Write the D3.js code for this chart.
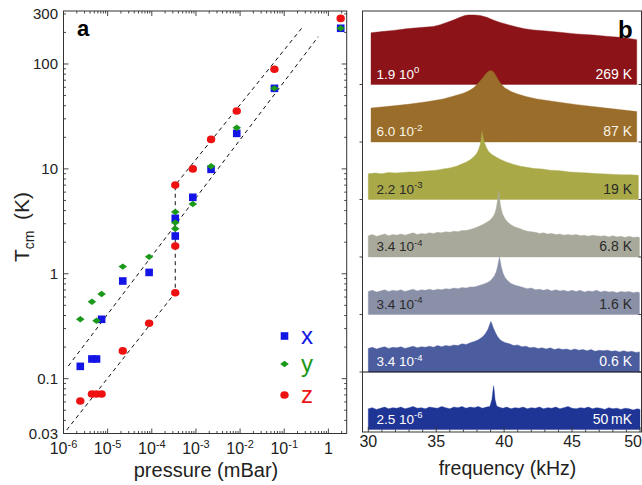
<!DOCTYPE html>
<html><head><meta charset="utf-8">
<script src="https://cdn.jsdelivr.net/npm/d3@7"></script>
<style>
body{margin:0;background:#fff;}
svg{display:block;font-family:"Liberation Sans",Arial,Helvetica,sans-serif;}
</style></head><body>
<svg id="c" width="642" height="485"></svg>
<script>
// ---------------- DATA ----------------
// panel a: pressure (mBar) vs centre-of-mass temperature (K)
const pressureTicks = [1e-6, 1e-5, 1e-4, 1e-3, 1e-2, 1e-1, 1];
const pressureTickExp = ["-6", "-5", "-4", "-3", "-2", "-1", ""];
const tempTicks = [0.03, 0.1, 1, 10, 100, 300];
const tempTickLabels = ["0.03", "0.1", "1", "10", "100", "300"];

const seriesX = [[1.9,219],[0.06,58.6],[8.4e-3,21.8],[2.2e-3,9.9],[8.5e-4,5.36],[3.4e-4,3.38],[3.4e-4,2.29],
  [8.7e-5,1.03],[2.2e-5,0.853],[7.3e-6,0.368],[4.4e-6,0.154],[5.6e-6,0.154],[2.4e-6,0.131]];
const seriesY = [[1.9,219],[0.06,58.6],[8.4e-3,24.7],[2.2e-3,10.6],[8.5e-4,4.62],[3.4e-4,3.88],[3.4e-4,3.07],[3.4e-4,2.69],
  [8.7e-5,1.45],[2.2e-5,1.17],[7.3e-6,0.641],[4.4e-6,0.541],[5.6e-6,0.356],[2.4e-6,0.368]];
const seriesZ = [[1.9,272],[0.06,89],[8.4e-3,35.6],[2.2e-3,19.1],[8.5e-4,10],[3.4e-4,7.0],[3.4e-4,1.84],[3.4e-4,0.66],
  [8.7e-5,0.337],[2.2e-5,0.184],[4.4e-6,0.0714],[5.6e-6,0.0714],[7.3e-6,0.0714],[2.4e-6,0.0612]];
// dashed guide lines
const fitXY = [[1.285e-6,0.132],[0.59,182]];
const fitZ = [[1.18e-6,0.0324],[3.4e-4,0.66],[3.4e-4,7.0],[0.248,219]];

const legendNames = ["x", "y", "z"];

// panel b: spectra (frequency kHz, amplitude a.u.), top to bottom
const freqTicks = [30, 35, 40, 45, 50];
const bandPressureMant = ["1.9", "6.0", "2.2", "3.4", "3.4", "3.4", "2.5"];
const bandPressureExp = ["0", "-2", "-3", "-4", "-4", "-4", "-6"];
const bandTemps = ["269 K", "87 K", "19 K", "6.8 K", "1.6 K", "0.6 K", "50\u2009mK"];

const spec269 = [[30.2,90],[31.0,92],[31.84,94],[32.8,97],[33.81,99],[34.79,101],[35.3,104],[35.77,108],[36.26,112],[36.75,117],
  [37.1,120],[37.36,121],[37.8,121],[38.23,120],[38.72,117],[39.2,112],[39.7,108],[40.3,104],[40.93,100],[41.5,97],[42.15,95],
  [43.1,93],[44.06,91],[45.3,88],[46.57,86],[47.5,84],[48.53,82],[49.2,80],[49.76,78]];
const spec87 = [[30.2,59],[31.5,62],[33.07,66],[34.3,70],[35.52,75],[36.3,80],[37.0,85],[37.4,89],[37.73,94],[38.0,100],
  [38.23,106],[38.45,112],[38.6,117],[38.8,122],[38.95,124],[39.1,124],[39.25,121],[39.4,115],[39.57,108],[39.8,100],[40.06,94],
  [40.5,88],[40.93,84],[41.6,79],[42.4,75],[43.8,70],[45.35,65],[47.5,59],[49.76,53]];
const spec19 = [[30.0,45],[30.5,46],[31.0,45],[31.5,47],[32.0,46],[32.5,47],[33.0,48],[33.5,48],[34.0,49],[34.5,50],[35.0,51],
  [35.5,53],[36.0,55],[36.5,58],[36.9,62],[37.2,65],[37.5,69],[37.75,74],[37.98,80],[38.12,87],[38.23,95],[38.3,105],[38.37,118],
  [38.45,109],[38.55,99],[38.7,90],[38.84,84],[39.05,79],[39.33,75],[39.7,70],[40.19,65],[40.7,61],[41.2,58],[41.66,56],[42.2,54],
  [42.8,53],[43.4,51],[44.12,50],[44.8,48],[45.5,47],[46.2,46],[47.0,45],[47.8,44],[48.6,43],[49.3,43],[49.88,42]];
const spec6_8 = [[30.0,37],[30.3,39],[30.6,36],[30.9,38],[31.2,40],[31.5,37],[31.8,39],[32.1,38],[32.4,40],[32.7,38],[33.0,40],
  [33.3,42],[33.6,39],[33.9,41],[34.2,40],[34.5,42],[34.8,41],[35.1,43],[35.4,42],[35.7,44],[36.0,43],[36.3,45],[36.6,44],[36.9,46],
  [37.2,46],[37.5,48],[37.8,50],[38.1,53],[38.4,56],[38.7,60],[38.95,64],[39.15,69],[39.3,75],[39.42,85],[39.52,99],[39.6,116],
  [39.66,102],[39.75,87],[39.88,75],[40.05,67],[40.25,61],[40.5,56],[40.8,52],[41.1,50],[41.4,47],[41.7,45],[42.0,44],[42.3,43],
  [42.6,41],[42.9,42],[43.2,40],[43.5,41],[43.8,39],[44.1,40],[44.4,38],[44.7,39],[45.0,38],[45.3,39],[45.6,37],[45.9,38],[46.2,36],
  [46.5,38],[46.8,37],[47.1,36],[47.4,37],[47.7,35],[48.0,37],[48.3,35],[48.6,36],[48.9,34],[49.2,36],[49.5,34],[49.8,35],[49.96,34]];
const spec1_6 = [[30.0,40],[30.3,42],[30.6,39],[30.9,41],[31.2,43],[31.5,40],[31.8,42],[32.1,41],[32.4,43],[32.7,40],[33.0,42],
  [33.3,44],[33.6,41],[33.9,43],[34.2,42],[34.5,44],[34.8,42],[35.1,44],[35.4,43],[35.7,45],[36.0,44],[36.3,46],[36.6,45],[36.9,47],
  [37.2,46],[37.5,48],[37.8,48],[38.1,50],[38.4,52],[38.7,55],[38.95,58],[39.15,63],[39.3,68],[39.42,75],[39.52,84],[39.6,94],
  [39.65,100],[39.7,95],[39.78,84],[39.9,73],[40.05,65],[40.25,59],[40.5,54],[40.8,51],[41.1,49],[41.4,47],[41.7,45],[42.0,46],
  [42.3,43],[42.6,44],[42.9,42],[43.2,44],[43.5,41],[43.8,43],[44.1,41],[44.4,42],[44.7,40],[45.0,42],[45.3,40],[45.6,42],[45.9,39],
  [46.2,41],[46.5,40],[46.8,42],[47.1,39],[47.4,41],[47.7,39],[48.0,40],[48.3,38],[48.6,40],[48.9,39],[49.2,40],[49.5,38],[49.8,39],[49.96,38]];
const spec0_6 = [[30.0,41],[30.3,43],[30.6,40],[30.9,42],[31.2,44],[31.5,41],[31.8,43],[32.1,42],[32.4,44],[32.7,41],[33.0,43],
  [33.3,45],[33.6,42],[33.9,44],[34.2,43],[34.5,45],[34.8,43],[35.1,46],[35.4,44],[35.7,46],[36.0,45],[36.3,47],[36.6,46],[36.9,49],
  [37.2,48],[37.5,51],[37.8,53],[38.1,56],[38.4,61],[38.6,66],[38.8,74],[38.93,82],[39.02,88],[39.1,84],[39.2,77],[39.35,69],
  [39.5,62],[39.7,56],[39.9,53],[40.1,51],[40.4,49],[40.7,46],[41.0,47],[41.3,44],[41.6,45],[41.9,42],[42.2,43],[42.5,41],[42.8,42],
  [43.1,40],[43.4,42],[43.7,39],[44.0,41],[44.3,39],[44.6,40],[44.9,38],[45.2,40],[45.5,38],[45.8,39],[46.1,37],[46.4,39],[46.7,36],
  [47.0,38],[47.3,37],[47.6,38],[47.9,36],[48.2,37],[48.5,35],[48.8,37],[49.1,35],[49.4,36],[49.7,34],[49.96,35]];
const spec50m = [[30.0,36],[30.3,38],[30.6,35],[30.9,37],[31.2,39],[31.5,36],[31.8,38],[32.1,37],[32.4,39],[32.7,36],[33.0,38],
  [33.3,40],[33.6,37],[33.9,38],[34.2,36],[34.5,39],[34.8,38],[35.1,37],[35.4,40],[35.7,38],[36.0,36],[36.3,39],[36.6,38],[36.9,40],
  [37.2,37],[37.5,39],[37.8,38],[38.1,40],[38.4,37],[38.7,39],[38.95,40],[39.1,52],[39.17,66],[39.22,76],[39.27,68],[39.33,52],
  [39.45,41],[39.6,39],[39.9,37],[40.2,39],[40.5,36],[40.8,38],[41.1,37],[41.4,39],[41.7,36],[42.0,38],[42.3,37],[42.6,39],[42.9,36],
  [43.2,38],[43.5,37],[43.8,39],[44.1,36],[44.4,38],[44.7,40],[45.0,37],[45.3,36],[45.6,38],[45.9,37],[46.2,39],[46.5,36],[46.8,38],
  [47.1,37],[47.4,35],[47.7,38],[48.0,36],[48.3,37],[48.6,35],[48.9,37],[49.2,36],[49.5,34],[49.8,36],[50.0,35]];
const spectra = [spec269, spec87, spec19, spec6_8, spec1_6, spec0_6, spec50m];

// ---------------- STYLE ----------------
const colX = "#1414e6", colY = "#1a991a", colZ = "#ee1111";
const bandColors = ["#8c1418", "#9a6e2a", "#a9a948", "#a8a99b", "#8a90a8", "#4b5d9f", "#1f3596"];
const bandTextColors = ["#ffffff", "#fbf4e6", "#2a2a2a", "#2a2a2a", "#2a2a2a", "#ffffff", "#ffffff"];
const axisCol = "#333";

const svg = d3.select("#c");

// ---------------- PANEL A ----------------
const L = {x0: 63.5, x1: 346.7, y0: 11, y1: 433.5};
const xL = d3.scaleLog().domain([1e-6, 2.6]).range([L.x0, L.x1]);
const yL = d3.scaleLog().domain([0.03, 320]).range([L.y1, L.y0]);
const isMajor = v => Math.abs(Math.log10(v) - Math.round(Math.log10(v))) < 1e-6;

const gA = svg.append("g");
// ticks
const xt = xL.ticks().filter(v => v >= 1e-6 && v <= 2.6);
const yt = yL.ticks().filter(v => v > 0.03 && v <= 320);
gA.selectAll(".xtb").data(xt).join("line")
  .attr("x1", d => xL(d)).attr("x2", d => xL(d))
  .attr("y1", L.y1).attr("y2", d => L.y1 - (isMajor(d) ? 5 : 2.5))
  .attr("stroke", axisCol).attr("stroke-width", 0.9);
gA.selectAll(".xtt").data(xt).join("line")
  .attr("x1", d => xL(d)).attr("x2", d => xL(d))
  .attr("y1", L.y0).attr("y2", d => L.y0 + (isMajor(d) ? 5 : 2.5))
  .attr("stroke", axisCol).attr("stroke-width", 0.9);
gA.selectAll(".ytl").data(yt).join("line")
  .attr("y1", d => yL(d)).attr("y2", d => yL(d))
  .attr("x1", L.x0).attr("x2", d => L.x0 + (isMajor(d) ? 5 : 2.5))
  .attr("stroke", axisCol).attr("stroke-width", 0.9);
gA.selectAll(".ytr").data(yt).join("line")
  .attr("y1", d => yL(d)).attr("y2", d => yL(d))
  .attr("x1", L.x1).attr("x2", d => L.x1 - (isMajor(d) ? 5 : 2.5))
  .attr("stroke", axisCol).attr("stroke-width", 0.9);
gA.append("rect").attr("x", L.x0).attr("y", L.y0).attr("width", L.x1 - L.x0).attr("height", L.y1 - L.y0)
  .attr("fill", "none").attr("stroke", axisCol).attr("stroke-width", 1);

// tick labels
gA.selectAll(".ylab").data(tempTicks).join("text")
  .attr("x", 58).attr("y", d => yL(d)).attr("dy", "0.36em")
  .attr("text-anchor", "end").attr("font-size", 15).attr("fill", "#222")
  .text((d, i) => tempTickLabels[i]);
const xlab = gA.selectAll(".xlab").data(pressureTicks).join("text")
  .attr("x", d => xL(d)).attr("y", 454).attr("text-anchor", "middle")
  .attr("font-size", 16).attr("fill", "#222");
xlab.each(function(d, i) {
  const t = d3.select(this);
  if (pressureTickExp[i] === "") { t.text("1"); return; }
  t.append("tspan").text("10");
  t.append("tspan").attr("dy", -6.5).attr("font-size", 11).text(pressureTickExp[i]);
});

// axis titles
gA.append("text").attr("x", 206).attr("y", 477).attr("text-anchor", "middle")
  .attr("font-size", 20).attr("fill", "#222").text("pressure (mBar)");
const yt2 = gA.append("text").attr("transform", "translate(29,227) rotate(-90)")
  .attr("text-anchor", "middle").attr("font-size", 21).attr("fill", "#222");
yt2.append("tspan").text("T");
yt2.append("tspan").attr("font-size", 14).attr("dy", 5).text("cm");
yt2.append("tspan").attr("dy", -5).text("\u2002(K)");

gA.append("text").attr("x", 77).attr("y", 36).attr("font-size", 22).attr("font-weight", "bold").text("a");

// dashed lines
const lineL = d3.line().x(d => xL(d[0])).y(d => yL(d[1]));
[fitXY, fitZ].forEach(f => gA.append("path").attr("d", lineL(f)).attr("fill", "none")
  .attr("stroke", "#111").attr("stroke-width", 1).attr("stroke-dasharray", "4,3.5"));

// markers
const sq = (g, x, y, c) => g.append("rect").attr("x", x - 3.8).attr("y", y - 3.8).attr("width", 7.6).attr("height", 7.6).attr("fill", c);
const dm = (g, x, y, c) => g.append("path").attr("d", `M${x-4.3},${y}L${x},${y-3.2}L${x+4.3},${y}L${x},${y+3.2}Z`).attr("fill", c);
const ci = (g, x, y, c) => g.append("ellipse").attr("cx", x).attr("cy", y).attr("rx", 4.2).attr("ry", 3.8).attr("fill", c);
seriesX.forEach(d => sq(gA, xL(d[0]), yL(d[1]), colX));
seriesY.forEach(d => dm(gA, xL(d[0]), yL(d[1]), colY));
seriesZ.forEach(d => ci(gA, xL(d[0]), yL(d[1]), colZ));

// legend
const legCols = [colX, colY, colZ];
const legMark = [sq, dm, ci];
const legY = [336, 364, 395];
legendNames.forEach((n, i) => {
  legMark[i](gA, 284.5, legY[i], legCols[i]);
  gA.append("text").attr("x", 301).attr("y", legY[i] + 7.5).attr("font-size", 24)
    .attr("fill", legCols[i]).text(n);
});

// ---------------- PANEL B ----------------
const R = {x0: 362.5, x1: 641.5, y0: 11, y1: 432};
const xR = d3.scaleLinear().domain([30, 50]).range([368.3, 640]);
const yR = d3.scaleLinear().domain([0, 6]).range([429.5, 84.5]);
const gB = svg.append("g");
const nB = spectra.length;

spectra.forEach((s, k) => {
  const i = nB - 1 - k;
  const area = d3.area().x(d => xR(d[0])).y0(yR(i)).y1(d => yR(i + d[1] / 100));
  gB.append("path").attr("d", area(s)).attr("fill", bandColors[k]).attr("stroke", bandColors[k]).attr("stroke-width", 0.4);
});
// labels in bands
spectra.forEach((s, k) => {
  const i = nB - 1 - k;
  const t = gB.append("text").attr("x", 376.5).attr("y", yR(i) - 6).attr("font-size", 13.5).attr("fill", bandTextColors[k]);
  t.append("tspan").text(bandPressureMant[k] + " 10");
  t.append("tspan").attr("dy", -5.5).attr("font-size", 9.5).text(bandPressureExp[k]);
  gB.append("text").attr("x", 632).attr("y", yR(i) - 6).attr("text-anchor", "end").attr("font-size", 14)
    .attr("fill", bandTextColors[k]).text(bandTemps[k]);
});
// separator line under band 6
gB.append("line").attr("x1", R.x0).attr("x2", R.x1).attr("y1", yR(1)).attr("y2", yR(1)).attr("stroke", "#111").attr("stroke-width", 1);
// side ticks at band baselines
const baseIdx = d3.range(1, nB);
gB.selectAll(".bt").data(baseIdx).join("line")
  .attr("x1", R.x0 - 3).attr("x2", R.x0).attr("y1", d => yR(d)).attr("y2", d => yR(d))
  .attr("stroke", axisCol).attr("stroke-width", 0.9);
gB.selectAll(".bt2").data(baseIdx).join("line")
  .attr("x1", R.x1 - 3).attr("x2", R.x1).attr("y1", d => yR(d)).attr("y2", d => yR(d))
  .attr("stroke", axisCol).attr("stroke-width", 0.9);
// frequency ticks
const ft = xR.ticks(20);
gB.selectAll(".ft").data(ft).join("line")
  .attr("x1", d => xR(d)).attr("x2", d => xR(d))
  .attr("y1", R.y1).attr("y2", d => R.y1 - (d % 5 === 0 ? 5 : 2.5))
  .attr("stroke", axisCol).attr("stroke-width", 0.9);
gB.append("rect").attr("x", R.x0).attr("y", R.y0).attr("width", R.x1 - R.x0).attr("height", R.y1 - R.y0)
  .attr("fill", "none").attr("stroke", axisCol).attr("stroke-width", 1);
gB.selectAll(".fl").data(freqTicks).join("text")
  .attr("x", d => xR(d)).attr("y", 446.5)
  .attr("text-anchor", (d, i) => i === freqTicks.length - 1 ? "end" : "middle")
  .attr("dx", (d, i) => i === freqTicks.length - 1 ? 2 : 0)
  .attr("font-size", 16).attr("fill", "#222").text(d => d);
gB.append("text").attr("x", 507.5).attr("y", 475).attr("text-anchor", "middle")
  .attr("font-size", 19.5).attr("fill", "#222").text("frequency (kHz)");
gB.append("text").attr("x", 618).attr("y", 38).attr("font-size", 24).attr("font-weight", "bold").text("b");
</script>
</body></html>
